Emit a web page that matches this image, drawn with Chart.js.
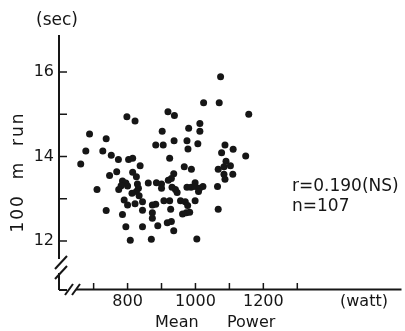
<!DOCTYPE html>
<html>
<head>
<meta charset="utf-8">
<script src="https://cdn.jsdelivr.net/npm/chart.js@4.4.1/dist/chart.umd.min.js"></script>
<style>
  html, body { margin: 0; padding: 0; background: #fff; }
  #wrap { width: 405px; height: 331px; }
</style>
</head>
<body>
<div id="wrap"><canvas id="c" width="405" height="331"></canvas></div>
<script>
// mean power (watt) and 100 m run time (sec)
const powerW = [
  798, 822, 688, 737, 677, 727, 752, 773, 803, 815, 662, 837, 902, 883, 905,
  747, 768, 815, 826, 710, 785, 795, 781, 800, 774, 829, 832, 826, 861, 885,
  900, 900, 813, 834, 790, 800, 822, 844, 844, 873, 883, 907, 737, 785, 873,
  873, 795, 844, 889, 917, 808, 870,
  1074, 1024, 1070, 919, 938, 1157, 1013, 1013, 980, 937, 975, 978, 1007, 1087,
  1077, 1111, 1148, 924, 967, 988, 1067, 1090, 1084, 1103, 1110, 1084, 1087,
  936, 929, 920, 931, 941, 946, 975, 987, 999, 999, 1012, 1022, 1009, 1065,
  924, 927, 956, 970, 977, 999, 962, 973, 983, 1067, 929, 936, 1004
];
const runSec = [
  14.94, 14.84, 14.53, 14.42, 14.13, 14.13, 14.03, 13.93, 13.93, 13.96, 13.82, 13.78, 14.60, 14.27, 14.27,
  13.55, 13.64, 13.63, 13.52, 13.22, 13.42, 13.37, 13.31, 13.30, 13.22, 13.35, 13.25, 13.17, 13.37, 13.38,
  13.35, 13.25, 13.13, 13.07, 12.97, 12.85, 12.88, 12.93, 12.73, 12.85, 12.87, 12.95, 12.72, 12.63, 12.67,
  12.54, 12.34, 12.34, 12.36, 12.43, 12.02, 12.04,
  15.89, 15.27, 15.27, 15.06, 14.97, 15.00, 14.78, 14.60, 14.67, 14.37, 14.37, 14.18, 14.30, 14.27,
  14.09, 14.17, 14.01, 13.96, 13.76, 13.70, 13.70, 13.89, 13.76, 13.78, 13.58, 13.58, 13.46,
  13.59, 13.48, 13.44, 13.27, 13.22, 13.15, 13.27, 13.27, 13.38, 13.29, 13.25, 13.29, 13.17, 13.29,
  12.95, 12.75, 12.95, 12.93, 12.84, 12.95, 12.64, 12.67, 12.68, 12.75, 12.46, 12.24, 12.05
];

// axis ticks and which of them carry a label
const xTicks = [700, 800, 900, 1000, 1100, 1200, 1300];
const xLabels = [800, 1000, 1200];
const yTicks = [12, 13, 14, 15, 16];
const yLabels = [12, 14, 16];

const FONT = '"DejaVu Sans", sans-serif';
const INK = '#161616';

// axes drawn by hand, like the printed figure: inward ticks and break marks
const paperAxes = {
  id: 'paperAxes',
  afterDatasetsDraw(chart) {
    const { ctx, chartArea: a, scales: { x, y } } = chart;
    const x0 = a.left;
    const y0 = a.bottom;
    const seg = (x1, y1, x2, y2) => {
      ctx.beginPath(); ctx.moveTo(x1, y1); ctx.lineTo(x2, y2); ctx.stroke();
    };
    ctx.save();
    ctx.strokeStyle = INK;
    ctx.lineWidth = 2;

    // y axis with break
    seg(x0, a.top, x0, y0 - 31);
    seg(x0, y0 - 17, x0, y0);
    seg(x0 - 4, y0 - 21, x0 + 8, y0 - 34);
    seg(x0 - 4, y0 - 11, x0 + 8, y0 - 24);

    // x axis with break
    seg(x0, y0, x0 + 8, y0);
    seg(x0 + 6, y0 + 5, x0 + 14, y0 - 6);
    seg(x0 + 13, y0 + 5, x0 + 21, y0 - 6);
    seg(x0 + 17, y0 - 0.5, a.right, y0 - 0.5);

    // ticks
    ctx.lineWidth = 1.5;
    yTicks.forEach(v => {
      const py = y.getPixelForValue(v);
      seg(x0, py, x0 + 8, py);
    });
    xTicks.forEach(v => {
      const px = x.getPixelForValue(v);
      seg(px, y0, px, y0 - 7);
    });

    // tick labels
    ctx.fillStyle = INK;
    ctx.font = '16px ' + FONT;
    ctx.textAlign = 'right';
    ctx.textBaseline = 'middle';
    yLabels.forEach(v => ctx.fillText(String(v), x0 - 5, y.getPixelForValue(v)));
    ctx.textAlign = 'center';
    ctx.textBaseline = 'top';
    xLabels.forEach(v => ctx.fillText(String(v), x.getPixelForValue(v), y0 + 4));

    // unit labels and titles
    ctx.font = '17px ' + FONT;
    ctx.textAlign = 'left';
    ctx.textBaseline = 'middle';
    ctx.fillText('(sec)', 36, 21);
    ctx.font = '16px ' + FONT;
    ctx.fillText('(watt)', 340, y0 + 12);
    ctx.fillText('Mean', 155, y0 + 33);
    ctx.fillText('Power', 227, y0 + 33);

    ctx.save();
    ctx.translate(19, 172);
    ctx.rotate(-Math.PI / 2);
    ctx.textAlign = 'center';
    ctx.font = '17px ' + FONT;
    ctx.letterSpacing = '2px';
    ctx.fillText('100  m  run', 0, 0);
    ctx.restore();

    // statistics
    ctx.font = '17px ' + FONT;
    ctx.textAlign = 'left';
    ctx.fillText('r=0.190(NS)', 292, 187);
    ctx.fillText('n=107', 292, 207);
    ctx.restore();
  }
};

const points = powerW.map((w, i) => ({ x: w, y: runSec[i] }));

new Chart(document.getElementById('c'), {
  type: 'scatter',
  data: {
    datasets: [{
      data: points,
      pointRadius: 3.5,
      pointHoverRadius: 3.5,
      backgroundColor: INK,
      borderWidth: 0
    }]
  },
  options: {
    responsive: false,
    animation: false,
    devicePixelRatio: 1,
    layout: { padding: { left: 59, right: 0, top: 35, bottom: 41 } },
    plugins: { legend: { display: false }, tooltip: { enabled: false } },
    scales: {
      x: { type: 'linear', display: false, min: 598, max: 1607 },
      y: { type: 'linear', display: false, min: 10.84, max: 16.876 }
    }
  },
  plugins: [paperAxes]
});
</script>
</body>
</html>
